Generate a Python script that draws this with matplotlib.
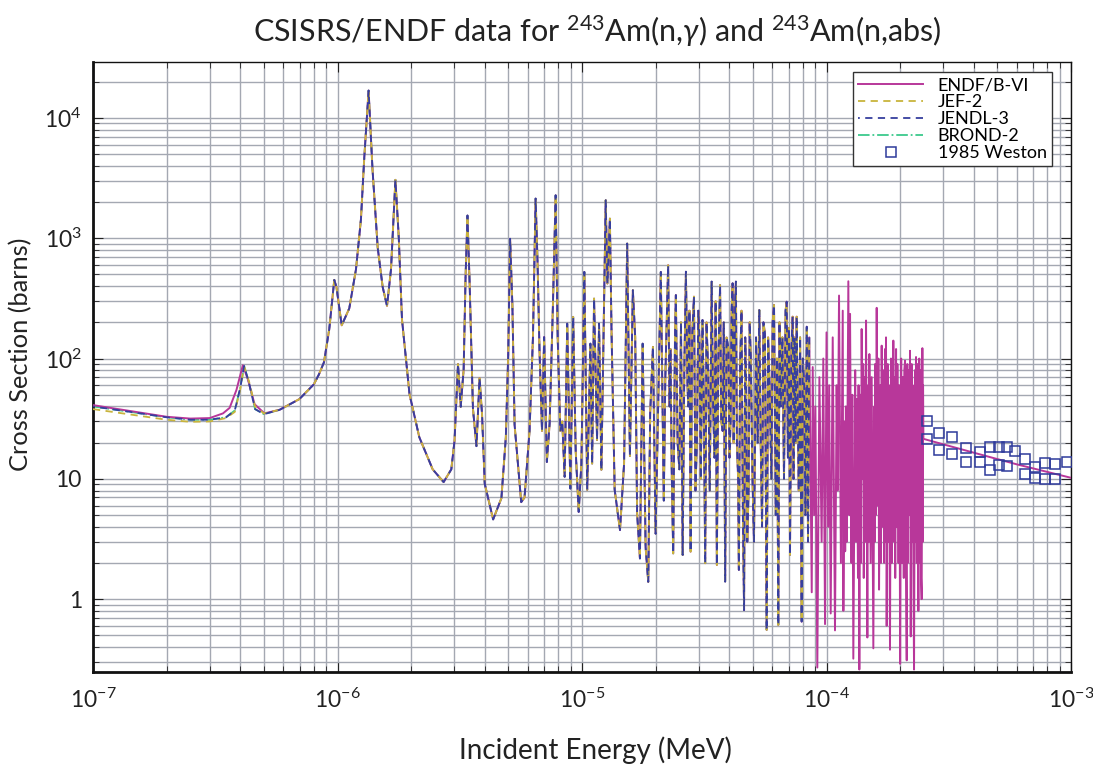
import numpy as np
import matplotlib.pyplot as plt
from matplotlib.ticker import FixedLocator, LogLocator, NullFormatter

plt.rcParams['font.family'] = ['Lato', 'DejaVu Sans']
plt.rcParams['mathtext.fontset'] = 'custom'
plt.rcParams['mathtext.rm'] = 'Lato'
plt.rcParams['mathtext.it'] = 'Lato:italic'

# energies in eV, cross sections in barns
# ENDF/B-VI below the first big resonance
endf_low_E = [0.100, 0.200, 0.250, 0.300, 0.340, 0.362, 0.386, 0.410, 0.430, 0.458, 0.503, 0.579, 0.698]
endf_low_sig = [41, 32.8, 31.7, 32, 35, 38.9, 54.8, 88, 67, 41.7, 35, 37.5, 46]

# JEF-2 / JENDL-3 / BROND-2 low energy part
other_low_E = [0.100, 0.200, 0.250, 0.300, 0.350, 0.380, 0.400, 0.415, 0.435, 0.460, 0.500, 0.580, 0.698]
jef_low_sig = [38, 31, 29.8, 30, 32, 36, 55, 86, 64, 40, 35, 37.5, 46]
jendl_low_sig = [40, 32.5, 31, 31, 32.5, 37, 57, 87, 62, 38, 34.5, 37.5, 46]

# resonance region, same for all evaluations up to ~85 eV
res_E = [0.80, 0.84, 0.88, 0.925, 0.97, 0.99, 1.04, 1.117, 1.19, 1.247,
         1.286, 1.34, 1.39, 1.46, 1.53, 1.594, 1.655, 1.725, 1.78, 1.835,
         1.97, 2.16, 2.45, 2.716, 2.92, 3.01, 3.11, 3.19, 3.28, 3.34,
         3.40, 3.47, 3.58, 3.70, 3.81, 3.90, 4.0, 4.33, 4.68, 4.88,
         4.99, 5.08, 5.19, 5.30, 5.64, 5.82, 6.1, 6.3, 6.46, 6.58,
         6.7, 6.86, 7.0, 7.18, 7.37, 7.6, 7.8, 7.95, 8.15, 8.3,
         8.49, 8.7, 8.96, 9.2, 9.42, 9.69, 9.94, 10.22, 10.5, 10.82,
         11.0, 11.2, 11.52, 11.74, 12.0, 12.5, 12.7, 13.0, 13.2, 13.6,
         14.3, 14.86, 15.3, 15.7, 16.14, 16.5, 16.8, 17.25, 17.7, 18.2,
         18.66, 19.0, 19.5, 20.0, 21.0, 21.6, 21.9, 22.5, 22.8, 23.0,
         23.3, 23.6, 24.0, 24.2, 24.6, 25.0, 25.4, 25.8, 26.2, 26.6,
         27.0, 27.2, 27.5, 27.8, 28.2, 28.7, 29.1, 29.5, 29.9, 30.2,
         30.6, 31.1, 31.5, 31.9, 32.3, 32.8, 33.3, 33.9, 34.3, 34.8,
         35.2, 35.6, 36.1, 36.7, 37.1, 37.6, 38.0, 38.5, 39.0, 39.7,
         40.1, 40.5, 40.9, 41.3, 41.7, 42.0, 42.3, 42.6, 43.0, 43.5,
         43.8, 44.3, 44.9, 45.5, 46.0, 46.5, 46.9, 47.4, 48.0, 48.5,
         49.0, 49.8, 50.5, 51.5, 52.3, 53.1, 53.8, 54.5, 55.2, 56.0,
         56.9, 57.7, 58.5, 59.5, 60.2, 61.0, 62.0, 62.7, 63.5, 64.2,
         65.0, 66.0, 67.0, 68.0, 68.7, 69.5, 70.2, 70.9, 71.8, 72.7,
         73.3, 74.0, 74.7, 75.5, 76.2, 77.0, 78.0, 79.1, 80.0, 81.0,
         82.0, 83.0, 84.0, 85.0]
res_sig = [61, 74, 93, 175, 451, 393, 189, 261, 553, 1442,
           4613, 16900, 3758, 834, 393, 274, 553, 3060, 1023, 212,
           50.5, 22.2, 12, 9.4, 12, 20.7, 90, 39.7, 81, 482,
           1545, 421, 38.4, 18.7, 68.7, 34.6, 9.1, 4.6, 6.9, 22.2,
           107, 990, 279, 28, 6.4, 7.0, 25, 151, 2137, 616,
           117, 25, 151, 13.8, 28.8, 269, 2276, 151, 25, 30,
           10.4, 195, 8.3, 222, 17.3, 5.3, 13.4, 525, 8.1, 133,
           13.4, 315, 21, 195, 11.9, 2070, 420, 1456, 172, 8.1,
           3.75, 13.4, 903, 15.5, 370, 151, 5.2, 2.18, 133, 2.7,
           1.39, 35, 125, 3.5, 525, 6.6, 66, 597, 40, 120,
           10, 2.4, 150, 337, 20, 12, 200, 2.33, 80, 527,
           60, 40, 250, 2.48, 150, 327, 8, 20, 250, 150,
           10, 209, 40, 1.99, 200, 80, 8, 436, 50, 15,
           300, 1.92, 100, 408, 30, 25, 200, 1.40, 150, 122,
           15, 30, 250, 422, 20, 60, 300, 436, 20, 10,
           1.75, 86, 250, 5, 0.81, 150, 66, 3, 8, 200,
           104, 10, 3, 150, 20, 253, 20, 4, 200, 162,
           0.555, 150, 60, 10, 200, 279, 5, 100, 0.61, 200,
           40, 150, 10, 250, 297, 15, 180, 2.33, 120, 223,
           10, 150, 20, 223, 40, 8, 150, 0.65, 100, 60,
           5, 184, 3, 150]

# ENDF/B-VI only above 85 eV
endf_high_E = [87.0, 87.8, 89.0, 90.0, 91.7, 93.5, 95.5, 97.0, 98.6, 100.0,
               101.5, 102.5, 104.0, 106.0, 108.3, 110.0, 111.0, 112.5, 114.5, 116.5,
               117.2, 118.5, 119.2, 120.0, 121.0, 122.8, 124.0, 124.8, 126.5, 127.5,
               128.7, 131.0, 132.0, 132.9, 134.5, 135.2, 136.2, 137.5, 138.3, 139.2,
               140.5, 141.3, 142.0, 143.5, 144.3, 145.1, 146.9, 148.0, 149.0, 149.7,
               151.5, 153.0, 155.4, 157.0, 157.5, 158.0, 159.0, 160.4, 162.0, 163.0,
               164.0, 166.0, 167.0, 168.1, 169.5, 170.5, 172.0, 173.5, 174.3, 175.1,
               176.2, 178.0, 179.0, 180.0, 181.8, 183.5, 185.0, 186.0, 186.8, 187.6,
               189.0, 190.0, 191.0, 192.5, 193.5, 194.9, 197.0, 198.5, 200.0, 202.0,
               203.5, 205.0, 207.0, 208.0, 209.5, 211.0, 212.8, 214.0, 215.0, 216.0,
               218.0, 219.5, 221.0, 223.0, 224.0, 225.0, 226.5, 228.0, 230.0, 231.0,
               232.3, 234.0, 235.5, 237.5, 239.5, 241.0, 242.0, 243.5, 245.0, 246.6,
               247.5, 248.2, 249.0, 400.0, 600.0, 1000.0]
endf_high_sig = [1.14, 85, 5, 40, 0.27, 70, 3, 100, 0.62, 165,
                 4, 60, 0.76, 150, 0.55, 60, 8, 334, 2.0, 250,
                 0.8, 30, 2.5, 40, 3, 439, 5, 235, 2, 50,
                 0.32, 80, 3, 46, 1.5, 60, 0.26, 50, 2, 176,
                 10, 90, 1.5, 70, 3, 207, 0.48, 60, 3, 109,
                 2, 70, 0.39, 40, 3, 90, 5, 264, 6, 100,
                 1.2, 60, 2, 128, 4, 80, 2.0, 120, 3, 150,
                 0.6, 90, 3, 60, 0.38, 100, 2, 80, 6, 141,
                 3, 70, 1.5, 120, 4, 90, 2, 60, 0.29, 100,
                 2, 70, 1.5, 80, 96, 3, 0.31, 90, 2, 80,
                 5, 116, 0.49, 90, 3, 60, 2, 0.26, 80, 3,
                 103, 2, 90, 0.8, 100, 2, 80, 1.5, 1.0, 122,
                 3, 60, 21.5, 16.5, 13.2, 10.2]

# 1985 Weston measurement
weston_E = [257, 257, 288, 288, 325, 325, 371, 371, 424, 424, 468, 468, 508, 508,
            549, 549, 592, 649, 649, 713, 713, 783, 783, 863, 863, 966]
weston_sig = [30.5, 21.3, 24.2, 17.4, 22.4, 16.1, 17.9, 13.9, 16.6, 13.9, 18.3, 11.9, 18.3, 13.0,
              18.3, 12.8, 17.1, 14.6, 11.0, 12.6, 10.2, 13.6, 10.05, 13.2, 10.05, 13.9]

ev = 1e-6  # eV -> MeV
endf_E = np.array(endf_low_E + res_E + endf_high_E) * ev
endf_sig = np.array(endf_low_sig + res_sig + endf_high_sig)
other_E = np.array(other_low_E + res_E) * ev
jef_sig = np.array(jef_low_sig + res_sig)
jendl_sig = np.array(jendl_low_sig + res_sig)

fig = plt.figure(figsize=(10.93, 7.70), dpi=100)
ax = fig.add_axes([0.0851, 0.1273, 0.8948, 0.7922])

grid_col = '#a4a8b2'
ax.plot(other_E, jendl_sig, color='#3cc98c', lw=1.3, ls='-.', label='BROND-2', zorder=2)
ax.plot(endf_E, endf_sig, color='#b8379a', lw=1.4, label='ENDF/B-VI', zorder=3)
ax.plot(other_E, jef_sig, color='#c8b43c', lw=1.3, ls=(0, (4, 3)), label='JEF-2', zorder=4)
ax.plot(other_E, jendl_sig, color='#363f9e', lw=1.3, ls=(3, (4, 3)), label='JENDL-3', zorder=5)
ax.plot(np.array(weston_E) * ev, weston_sig, ls='none', marker='s', ms=7, mfc='none',
        mec='#2e3a9b', mew=1.1, label='1985 Weston', zorder=6)

ax.set_xscale('log')
ax.set_yscale('log')
ax.set_xlim(1e-7, 1e-3)
ax.set_ylim(0.248, 2.92e4)

ax.xaxis.set_major_locator(FixedLocator([1e-7, 1e-6, 1e-5, 1e-4, 1e-3]))
ax.set_xticklabels([r'$10^{-7}$', r'$10^{-6}$', r'$10^{-5}$', r'$10^{-4}$', r'$10^{-3}$'])
ax.yaxis.set_major_locator(FixedLocator([1, 10, 100, 1e3, 1e4]))
ax.set_yticklabels(['1', '10', r'$10^{2}$', r'$10^{3}$', r'$10^{4}$'])
for a in (ax.xaxis, ax.yaxis):
    a.set_minor_locator(LogLocator(base=10, subs=np.arange(2, 10), numticks=20))
    a.set_minor_formatter(NullFormatter())

ax.grid(True, which='both', color=grid_col, lw=1.0)
ax.set_axisbelow(True)
ax.tick_params(which='both', direction='in', top=True, right=True, labelsize=16.5,
               color='#222222', labelcolor='#222222')
ax.tick_params(which='major', length=7)
ax.tick_params(axis='x', which='major', pad=11)
ax.tick_params(axis='y', which='major', pad=8)
ax.tick_params(which='minor', length=4)
for s in ax.spines.values():
    s.set_color('#111111')
    s.set_linewidth(1.0)
ax.spines['left'].set_linewidth(2.0)
ax.spines['bottom'].set_linewidth(2.0)

ax.set_xlabel('Incident Energy (MeV)', fontsize=20, color='#222222')
ax.xaxis.set_label_coords(0.514, -0.105)
ax.set_ylabel('Cross Section (barns)', fontsize=18.3, color='#222222')
ax.yaxis.set_label_coords(-0.062, 0.52)
fig.suptitle(r'CSISRS/ENDF data for $^{243}$Am(n,$\gamma$) and $^{243}$Am(n,abs)',
             fontsize=22, color='#222222', x=0.546, y=0.982)

h, l = ax.get_legend_handles_labels()
order = [1, 2, 3, 0, 4]
leg = ax.legend([h[i] for i in order], [l[i] for i in order], loc='upper right',
                bbox_to_anchor=(0.9806, 0.9836), fontsize=13, frameon=True, fancybox=False,
                edgecolor='#333333', framealpha=1, handlelength=3.6, borderpad=0.3,
                labelspacing=0.05, handletextpad=0.8, borderaxespad=0)
leg.get_frame().set_linewidth(1.0)

fig.savefig('out.png', dpi=100)
